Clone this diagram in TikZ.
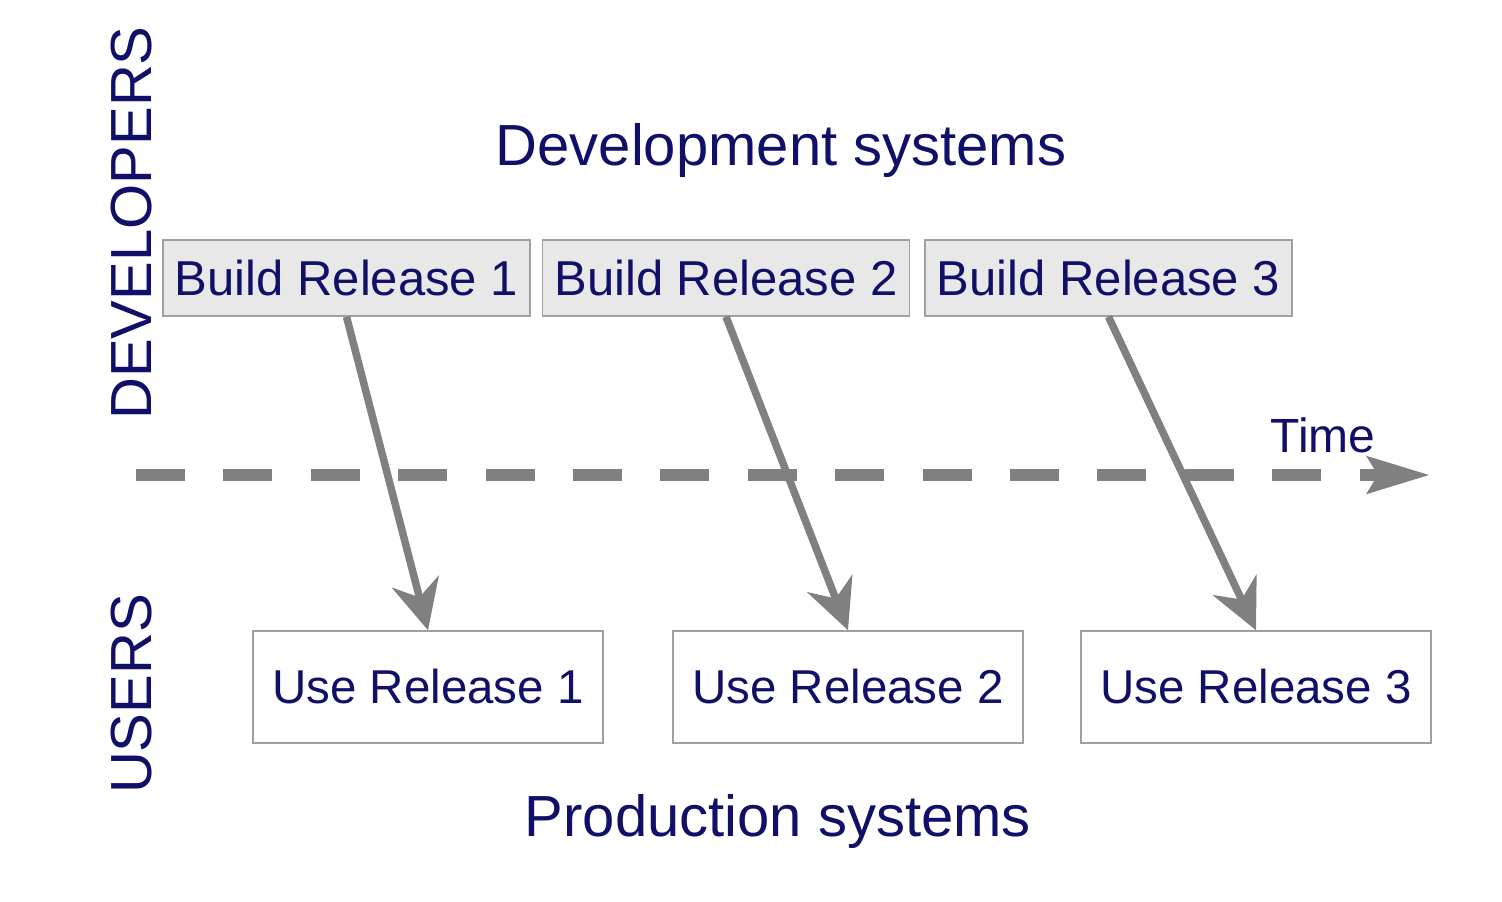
\documentclass[tikz,border=0pt]{standalone}
\usepackage{fontspec}
\setmainfont{Liberation Sans}
\usetikzlibrary{arrows.meta}
\definecolor{navy}{RGB}{16,16,105}
\definecolor{arrowgray}{RGB}{128,128,128}
\definecolor{boxfill}{RGB}{232,232,232}
\definecolor{boxline}{RGB}{160,160,160}
\tikzset{
  bigtext/.style={text=navy, font=\fontsize{58}{68}\selectfont, inner sep=0pt},
  buildbox/.style={draw=boxline, fill=boxfill, line width=1.5pt, minimum width=367pt, minimum height=76pt, inner sep=0pt, text=navy, font=\fontsize{49}{58}\selectfont},
  usebox/.style={draw=boxline, fill=white, line width=1.5pt, minimum width=350pt, minimum height=112pt, inner sep=0pt, text=navy, font=\fontsize{47.5}{56}\selectfont},
  relarrow/.style={draw=arrowgray, line width=7.5pt, -{Stealth[length=50pt, width=48pt, inset=16pt]}},
  timeline/.style={draw=arrowgray, line width=12pt, dash pattern=on 49pt off 38.4pt, -{Stealth[length=62pt, width=36pt, inset=10pt]}}
}
\begin{document}
\begin{tikzpicture}[x=1pt, y=-1pt]
\useasboundingbox (0,0) rectangle (1502,902);
\fill[white] (0,0) rectangle (1502,902);

% time line
\coordinate (tstart) at (136,475);
\coordinate (tend) at (1430,475);
\draw[timeline] (tstart) -- (tend);
\node[bigtext, font=\fontsize{48}{56}\selectfont, anchor=base] (time) at (1323,452) {Time};

% titles
\node[bigtext, anchor=base] (dev) at (781,165) {Development systems};
\node[bigtext, anchor=base] (prod) at (778,836) {Production systems};
\node[bigtext, anchor=base, rotate=90] (developers) at (151,223) {DEVELOPERS};
\node[bigtext, anchor=base, rotate=90] (users) at (151,694) {USERS};

% boxes
\node[buildbox] (b1) at (346.5,278) {Build Release 1};
\node[buildbox] (b2) at (726,278) {Build Release 2};
\node[buildbox] (b3) at (1108.5,278) {Build Release 3};

\node[usebox] (u1) at (428,687) {Use Release 1};
\node[usebox] (u2) at (848,687) {Use Release 2};
\node[usebox] (u3) at (1256,687) {Use Release 3};

% arrows
\draw[relarrow] (b1.south) -- (u1.north);
\draw[relarrow] (b2.south) -- (u2.north);
\draw[relarrow] (b3.south) -- (u3.north);
\end{tikzpicture}
\end{document}
